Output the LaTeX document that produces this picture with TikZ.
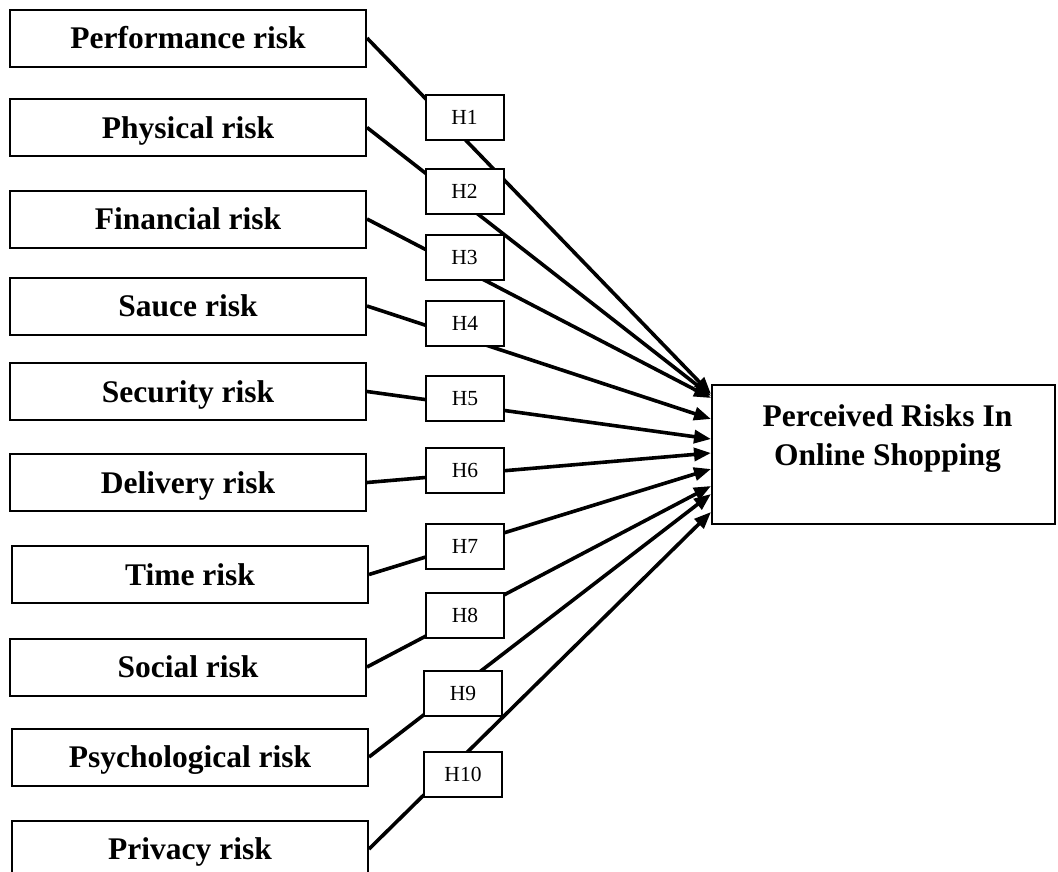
\documentclass[tikz,border=0pt]{standalone}
\usepackage{fontspec}
\setmainfont{Liberation Serif}
\usetikzlibrary{arrows.meta,calc}
\begin{document}
\begin{tikzpicture}[x=1pt,y=-1pt,
  srcbox/.style={draw, line width=2pt, minimum width=356pt, minimum height=57pt, inner sep=0pt,
    font=\fontsize{31.5}{37}\selectfont\bfseries, text height=21pt, text depth=0pt},
  hbox/.style={draw, fill=white, line width=2pt, minimum width=78pt, minimum height=45pt, inner sep=0pt,
    font=\fontsize{21.5}{25}\selectfont, text height=14pt, text depth=0pt},
  tbox/.style={draw, line width=2pt, minimum width=343pt, minimum height=139pt, inner sep=0pt},
  tgttext/.style={align=center, inner sep=0pt, font=\fontsize{31.5}{39}\selectfont\bfseries},
  link/.style={line width=3.6pt, -{Triangle[length=17pt,width=13pt]}}]
\useasboundingbox (0,0) rectangle (1058,871);

% source boxes
\node[srcbox] (s1)  at (188,38)  {Performance risk};
\node[srcbox] (s2)  at (188,127.5) {Physical risk};
\node[srcbox] (s3)  at (188,219) {Financial risk};
\node[srcbox] (s4)  at (188,306) {Sauce risk};
\node[srcbox] (s5)  at (188,391.5) {Security risk};
\node[srcbox] (s6)  at (188,482.5) {Delivery risk};
\node[srcbox] (s7)  at (190,574.5) {Time risk};
\node[srcbox] (s8)  at (188,667) {Social risk};
\node[srcbox] (s9)  at (190,757) {Psychological risk};
\node[srcbox] (s10) at (190,849) {Privacy risk};

% target
\node[tbox] (t) at (883.5,454.5) {};
\node[tgttext] (tt) at ($(t.north)+(4,55)$) {Perceived Risks In\\Online Shopping};

% end points on the target
\coordinate (e1)  at ($(t.north west)+(0,10)$);
\coordinate (e2)  at ($(t.north west)+(0,12)$);
\coordinate (e3)  at ($(t.north west)+(0,14)$);
\coordinate (e4)  at ($(t.north west)+(0,35)$);
\coordinate (e5)  at ($(t.north west)+(0,55)$);
\coordinate (e6)  at ($(t.north west)+(0,69)$);
\coordinate (e7)  at ($(t.north west)+(0,85)$);
\coordinate (e8)  at ($(t.north west)+(0,102)$);
\coordinate (e9)  at ($(t.north west)+(0,110)$);
\coordinate (e10) at ($(t.north west)+(0,128)$);

% connectors
\foreach \i in {1,...,10}{
  \draw[link] (s\i.east) -- (e\i);
}

% hypothesis labels
\node[hbox] (h1)  at (464.5,117.5) {H1};
\node[hbox] (h2)  at (464.5,191) {H2};
\node[hbox] (h3)  at (464.5,257) {H3};
\node[hbox] (h4)  at (465,323.5) {H4};
\node[hbox] (h5)  at (465,398) {H5};
\node[hbox] (h6)  at (465,470.5) {H6};
\node[hbox] (h7)  at (465,546.5) {H7};
\node[hbox] (h8)  at (465,615.5) {H8};
\node[hbox] (h9)  at (463,693) {H9};
\node[hbox] (h10) at (463,774) {H10};
\end{tikzpicture}
\end{document}
